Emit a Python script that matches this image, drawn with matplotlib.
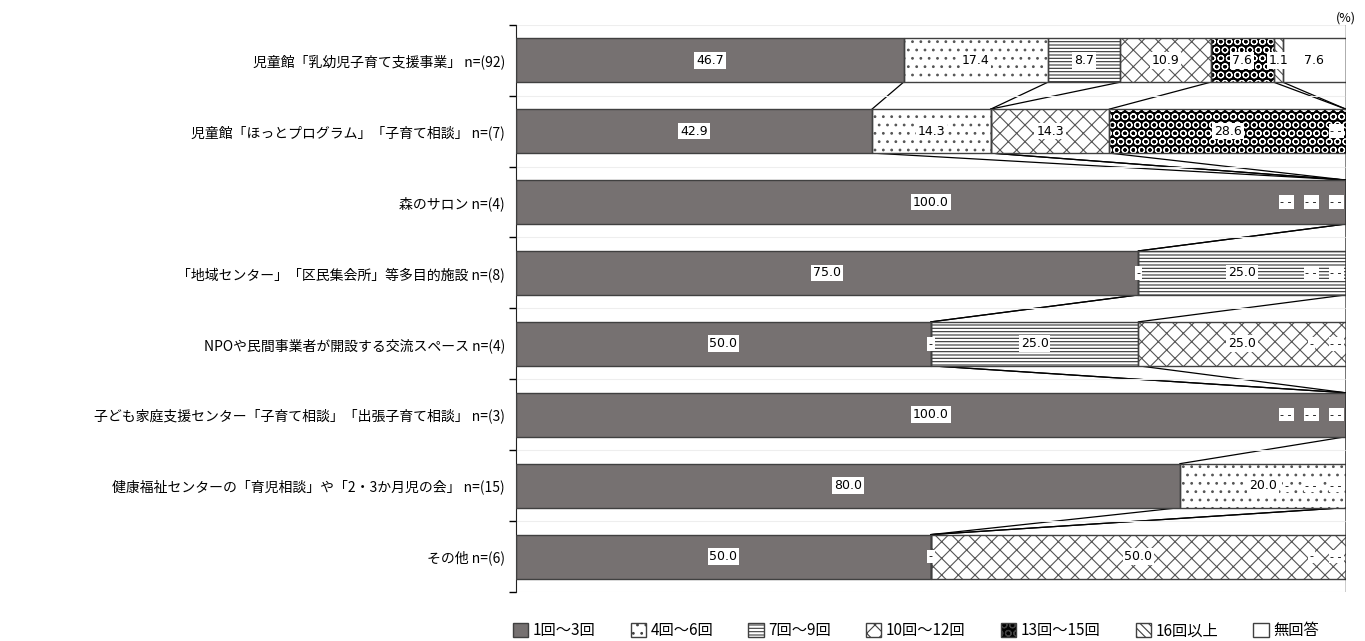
import matplotlib.pyplot as plt
import matplotlib.patches as mpatches
import numpy as np

plt.rcParams['font.family'] = ['Noto Sans CJK JP', 'DejaVu Sans']
plt.rcParams['hatch.linewidth'] = 0.8

categories = [
    '児童館「乳幼児子育て支援事業」 n=(92)',
    '児童館「ほっとプログラム」「子育て相談」 n=(7)',
    '森のサロン n=(4)',
    '「地域センター」「区民集会所」等多目的施設 n=(8)',
    'NPOや民間事業者が開設する交流スペース n=(4)',
    '子ども家庭支援センター「子育て相談」「出張子育て相談」 n=(3)',
    '健康福祉センターの「育児相談」や「2・3か月児の会」 n=(15)',
    'その他 n=(6)',
]
series = ['1回～3回', '4回～6回', '7回～9回', '10回～12回', '13回～15回', '16回以上', '無回答']
v_1_3 = [46.7, 42.9, 100.0, 75.0, 50.0, 100.0, 80.0, 50.0]
v_4_6 = [17.4, 14.3, 0, 0, 0, 0, 20.0, 0]
v_7_9 = [8.7, 0, 0, 25.0, 25.0, 0, 0, 0]
v_10_12 = [10.9, 14.3, 0, 0, 25.0, 0, 0, 50.0]
v_13_15 = [7.6, 28.6, 0, 0, 0, 0, 0, 0]
v_16 = [1.1, 0, 0, 0, 0, 0, 0, 0]
v_none = [7.6, 0, 0, 0, 0, 0, 0, 0]
values = np.array([v_1_3, v_4_6, v_7_9, v_10_12, v_13_15, v_16, v_none])

styles = [
    dict(fc='#767171', hatch=None, hc='#404040'),
    dict(fc='white', hatch='..', hc='#555555'),
    dict(fc='white', hatch='-----', hc='#333333'),
    dict(fc='white', hatch='xx', hc='#555555'),
    dict(fc='black', hatch='OO', hc='white'),
    dict(fc='white', hatch='\\\\\\\\', hc='#555555'),
    dict(fc='white', hatch=None, hc='#404040'),
]

fig = plt.figure(figsize=(13.65, 6.41), dpi=100)
ax = fig.add_axes([0.378, 0.0764, 0.608, 0.885])

n = len(categories)
y = np.arange(n)
h = 0.62
left = np.zeros(n)
cum = []
for i, st in enumerate(styles):
    ax.barh(y, values[i], left=left, height=h, color=st['fc'], hatch=st['hatch'],
            edgecolor=st['hc'], linewidth=0, zorder=2)
    ax.barh(y, values[i], left=left, height=h, fill=False, edgecolor='#404040',
            linewidth=1.0, zorder=3)
    left = left + values[i]
    cum.append(left.copy())

# series lines between bars
for c in cum:
    c = np.minimum(c, 100)
    for j in range(n - 1):
        ax.plot([c[j], c[j + 1]], [j + h / 2, j + 1 - h / 2], color='black', lw=0.9, zorder=1)

# data labels
box = dict(boxstyle='square,pad=0.15', fc='white', ec='none')
for j in range(n):
    start = 0
    trailing = []
    for i in range(len(series)):
        v = values[i][j]
        if v > 0:
            ax.text(start + v / 2, j, f'{v:.1f}', ha='center', va='center', fontsize=9,
                    bbox=box, zorder=5, family='DejaVu Sans')
        else:
            if start >= 99.9:
                trailing.append(i)
            elif i == 1:
                ax.annotate('-', (start, j), ha='center', va='center', fontsize=8,
                            bbox=box, zorder=5, family='DejaVu Sans')
        start += v
    # trailing zero labels stacked at the right end
    k = len(trailing)
    pairs = k // 2 if k > 2 else (1 if k == 2 else 0)
    singles = k - 2 * pairs
    offs = []
    x_off = -7
    for p in range(pairs):
        offs.append((x_off, '- -'))
        x_off -= 18
    for s in range(singles):
        offs.append((x_off, '-'))
        x_off -= 8
    for dx, t in offs:
        ax.annotate(t, (100, j), xytext=(dx, 0), textcoords='offset points',
                    ha='center', va='center', fontsize=8, bbox=box, zorder=5,
                    family='DejaVu Sans')

ax.set_xlim(0, 100)
ax.set_ylim(n - 0.5, -0.5)
ax.set_yticks(y)
ax.set_yticklabels(categories, fontsize=10)
ax.tick_params(axis='y', length=0, pad=8)
ax.set_yticks(np.arange(-0.5, n, 1), minor=True)
ax.tick_params(axis='y', which='minor', length=5, width=1, direction='out')
ax.grid(axis='y', which='minor', color='#eeeeee', lw=0.8, zorder=0)
ax.set_xticks([])
for s in ['top', 'right', 'bottom']:
    ax.spines[s].set_visible(False)
ax.spines['left'].set_color('#222222')
ax.axvline(100, color='black', lw=1.0, zorder=4)

fig.text(0.993, 0.972, '(%)', ha='right', va='center', fontsize=9)

handles = []
for st, name in zip(styles, series):
    handles.append(mpatches.Patch(facecolor=st['fc'], hatch=st['hatch'],
                                  edgecolor='#404040', label=name))
fig.legend(handles=handles, loc='center', bbox_to_anchor=(0.671, 0.016), ncol=7,
           frameon=False, fontsize=11, handlelength=1.0, handleheight=1.0,
           handletextpad=0.3, columnspacing=2.3)

plt.savefig('out.png', dpi=100)
